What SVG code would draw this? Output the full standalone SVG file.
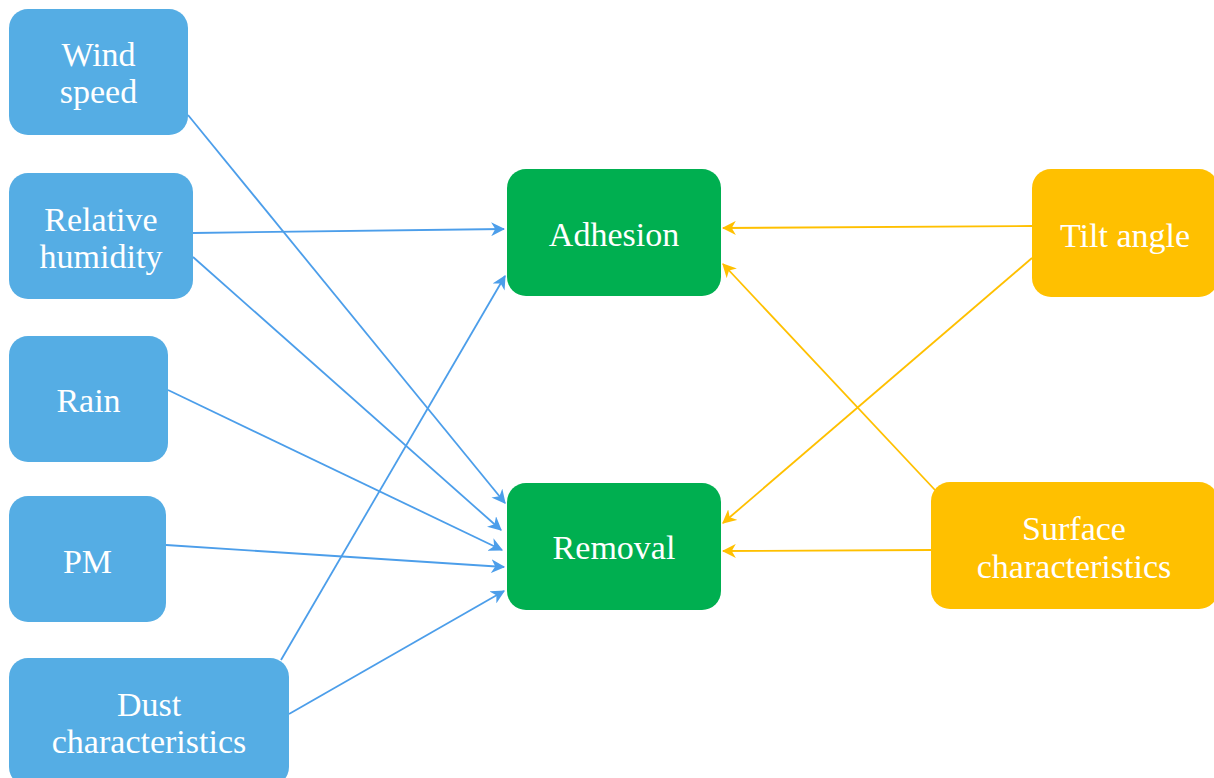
<svg xmlns="http://www.w3.org/2000/svg" width="1214" height="778" viewBox="0 0 1214 778">
<defs>
<style>
.b{fill:#55ADE4}
.g{fill:#00AF50}
.y{fill:#FFC000}
.t{font-family:"Liberation Serif","Times New Roman",serif;font-size:34px;fill:#fff;text-anchor:middle}
.lb{stroke:#4C9EEA;stroke-width:1.8;fill:none;marker-end:url(#ab)}
.ly{stroke:#FFC000;stroke-width:1.8;fill:none;marker-end:url(#ay)}
</style>
<marker id="ab" viewBox="0 0 12 12" refX="11" refY="6" markerWidth="14" markerHeight="14" markerUnits="userSpaceOnUse" orient="auto">
<path d="M0,0 L12,6 L0,12 L3.5,6 z" fill="#4C9EEA"/>
</marker>
<marker id="ay" viewBox="0 0 12 12" refX="11" refY="6" markerWidth="14" markerHeight="14" markerUnits="userSpaceOnUse" orient="auto">
<path d="M0,0 L12,6 L0,12 L3.5,6 z" fill="#FFC000"/>
</marker>
</defs>
<rect width="1214" height="778" fill="#fff"/>
<g id="connectors">
<line class="lb" x1="188" y1="115" x2="505" y2="503"/>
<line class="lb" x1="193" y1="233" x2="504" y2="229"/>
<line class="lb" x1="193" y1="257" x2="501" y2="530"/>
<line class="lb" x1="168" y1="390" x2="502" y2="550"/>
<line class="lb" x1="166" y1="545" x2="504" y2="567"/>
<line class="lb" x1="281" y1="660" x2="505" y2="276"/>
<line class="lb" x1="289" y1="714" x2="504" y2="591"/>
<line class="ly" x1="1032" y1="226" x2="723" y2="228"/>
<line class="ly" x1="1032" y1="258" x2="723" y2="523"/>
<line class="ly" x1="935" y1="490" x2="723" y2="264"/>
<line class="ly" x1="931" y1="550" x2="723" y2="551"/>
</g>
<g id="wind"><rect class="b" x="9" y="9" width="179" height="126" rx="19"/><text class="t" x="98.5" y="66">Wind</text><text class="t" x="98.5" y="103">speed</text></g>
<g id="rh"><rect class="b" x="9" y="173" width="184" height="126" rx="19"/><text class="t" x="101" y="231">Relative</text><text class="t" x="101" y="268">humidity</text></g>
<g id="rain"><rect class="b" x="9" y="336" width="159" height="126" rx="19"/><text class="t" x="88.5" y="412">Rain</text></g>
<g id="pm"><rect class="b" x="9" y="496" width="157" height="126" rx="19"/><text class="t" x="87.5" y="573">PM</text></g>
<g id="dust"><rect class="b" x="9" y="658" width="280" height="128" rx="19"/><text class="t" x="149" y="716">Dust</text><text class="t" x="149" y="753">characteristics</text></g>
<g id="adhesion"><rect class="g" x="507" y="169" width="214" height="127" rx="19"/><text class="t" x="614" y="246">Adhesion</text></g>
<g id="removal"><rect class="g" x="507" y="483" width="214" height="127" rx="19"/><text class="t" x="614" y="559">Removal</text></g>
<g id="tilt"><rect class="y" x="1032" y="169" width="186" height="128" rx="19"/><text class="t" x="1125" y="247">Tilt angle</text></g>
<g id="surface"><rect class="y" x="931" y="482" width="287" height="127" rx="19"/><text class="t" x="1074" y="540">Surface</text><text class="t" x="1074" y="578">characteristics</text></g>
</svg>
